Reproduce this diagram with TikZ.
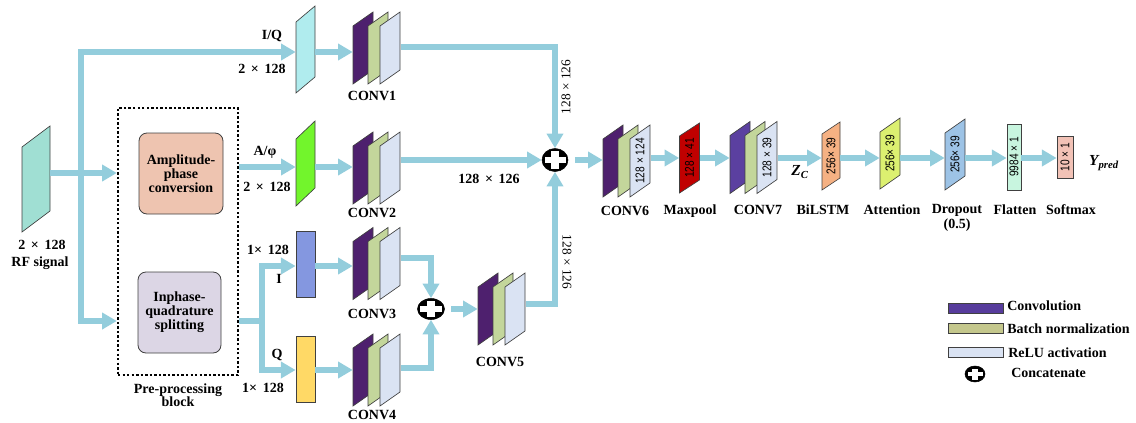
\documentclass[tikz,border=0pt]{standalone}
\usepackage{fontspec}
\setmainfont{Liberation Serif}
\newfontfamily\dimfont{Liberation Sans}
\usetikzlibrary{arrows.meta,shapes.geometric,calc}
\definecolor{arrowc}{HTML}{93CDDC}
\definecolor{edgec}{HTML}{404040}
\definecolor{rfc}{HTML}{A0DFD3}
\definecolor{iqc}{HTML}{B0ECEE}
\definecolor{apc}{HTML}{72F52C}
\definecolor{ic}{HTML}{8497E0}
\definecolor{qc}{HTML}{FFD966}
\definecolor{ampc}{HTML}{EEC4B0}
\definecolor{iqsc}{HTML}{DCD6E5}
\definecolor{cpurple}{HTML}{4E206E}
\definecolor{cgreen}{HTML}{C3D69B}
\definecolor{cblue}{HTML}{DAE3F3}
\definecolor{cpurpleb}{HTML}{5B40A0}
\definecolor{redc}{HTML}{C00000}
\definecolor{orc}{HTML}{F5B183}
\definecolor{attc}{HTML}{DCF070}
\definecolor{drc}{HTML}{9DC3E6}
\definecolor{flc}{HTML}{C8F5DF}
\definecolor{smc}{HTML}{F2C2B6}
\definecolor{legconv}{HTML}{573C9C}
\definecolor{legbn}{HTML}{C4C78C}
\definecolor{legrelu}{HTML}{DAE3F3}
% plane: cx, cy, w, h, s, fill
\newcommand\plane[6]{\filldraw[fill=#6,draw=edgec,line width=0.5pt]
  ({(#1)-(#3)/2},{(#2)-((#4)+(#5))/2+(#5)}) -- ({(#1)+(#3)/2},{(#2)-((#4)+(#5))/2})
  -- ({(#1)+(#3)/2},{(#2)+((#4)+(#5))/2-(#5)}) -- ({(#1)-(#3)/2},{(#2)+((#4)+(#5))/2}) -- cycle;}
% para: name, cx, cy, w, h, s, fill
\newcommand\para[7]{\node[inner sep=0pt,minimum width={(#4)*0.75pt},minimum height={((#5)+(#6))*0.75pt}] (#1) at (#2,#3) {};
  \plane{#2}{#3}{#4}{#5}{#6}{#7}}
% conv block: name, xleft, cy, first colour
\newcommand\convblk[4]{\node[inner sep=0pt,minimum width=36pt,minimum height=54pt] (#1) at ({(#2)+24},#3) {};
  \plane{(#2)+10}{#3}{20}{58}{14}{#4}\plane{(#2)+25}{#3}{20}{58}{14}{cgreen}\plane{(#2)+37}{#3}{20}{58}{14}{cblue}}
% concat: name, x, y, rx, ry
\newcommand\concat[5]{\node[ellipse,fill=black,draw=black,inner sep=0pt,minimum width={2*(#4)*0.75pt},minimum height={2*(#5)*0.75pt}] (#1) at (#2,#3) {};
  \fill[white] ({(#2)-(#4)+2.5},{(#3)-0.3*(#5)}) rectangle ({(#2)+(#4)-2.5},{(#3)+0.3*(#5)});
  \fill[white] ({(#2)-0.3*(#4)},{(#3)-(#5)+2.5}) rectangle ({(#2)+0.3*(#4)},{(#3)+(#5)-2.5});}
\newcommand\tx{\hspace{0.4em}×\hspace{0.4em}}
\newcommand\dt[1]{\scalebox{0.8}[1]{#1}}
\begin{document}
\begin{tikzpicture}[x=0.75pt,y=-0.75pt,
  arr/.style={draw=arrowc,line width=4.5pt,line join=miter,-{Triangle[length=11pt,width=12pt]}},
  lab/.style={font=\bfseries\fontsize{10.5}{11}\selectfont,inner sep=0pt},
  dim/.style={font=\dimfont\fontsize{9.5}{10}\selectfont,rotate=90,inner sep=0pt},
  sdim/.style={font=\fontsize{10}{11}\selectfont,inner sep=0pt},
  rbox/.style={draw=edgec,line width=0.6pt,inner sep=0pt}]
\useasboundingbox (0,0) rectangle (1136,422);

% RF signal
\para{rf}{36}{179}{28}{85}{21}{rfc}
\node[lab] (rfdim) at (42,245) {2\tx128};
\node[lab] (rflab) at (40,263) {RF signal};

% pre-processing block
\node[draw=black,line width=1.8pt,dash pattern=on 1.8pt off 1.6pt,minimum width=90pt,minimum height=200.25pt,inner sep=0pt] (pp) at (178,241.5) {};
\node[rbox,fill=ampc,rounded corners=6pt,minimum width=63pt,minimum height=60.75pt,align=center,font=\bfseries\fontsize{10.5}{10.5}\selectfont] (amp) at (181,173.5) {Amplitude-\\phase\\conversion};
\node[rbox,fill=iqsc,rounded corners=6pt,minimum width=62.25pt,minimum height=60.75pt,align=center,font=\bfseries\fontsize{10.5}{10.5}\selectfont] (iqs) at (179.5,312.5) {Inphase-\\quadrature\\splitting};
\node[lab,align=center,font=\bfseries\fontsize{10.5}{10}\selectfont] (pplab) at (178,395.5) {Pre-processing\\block};

% input planes
\para{iq}{305.5}{49.5}{19}{71}{16}{iqc}
\para{ap}{305.5}{163.5}{19}{67}{18}{apc}
\node[rbox,fill=ic,minimum width=14.25pt,minimum height=49.5pt] (ib) at (305.5,264) {};
\node[rbox,fill=qc,minimum width=14.25pt,minimum height=49.5pt] (qb) at (305.5,369) {};

\node[lab] (iqlab) at (272,36) {I/Q};
\node[lab] (iqdim) at (262,69) {2\tx128};
\node[lab] (aplab) at (265,152) {A/φ};
\node[lab] (apdim) at (267,187) {2\tx128};
\node[lab] (idim) at (268,250) {1×\hspace{0.4em}128};
\node[lab] (ilab) at (279,279) {I};
\node[lab] (qlab) at (277,355) {Q};
\node[lab] (qdim) at (263,388) {1×\hspace{0.4em}128};

% conv blocks
\convblk{c1}{353}{48}{cpurple}
\convblk{c2}{353}{168}{cpurple}
\convblk{c3}{353}{263.5}{cpurple}
\convblk{c4}{353}{370}{cpurple}
\convblk{c5}{478}{309}{cpurple}
\convblk{c6}{603}{161}{cpurple}
\convblk{c7}{730}{157.5}{cpurpleb}

\node[lab] (c1l) at (372,96) {CONV1};
\node[lab] (c2l) at (372,213) {CONV2};
\node[lab] (c3l) at (372,314) {CONV3};
\node[lab] (c4l) at (372,415) {CONV4};
\node[lab] (c5l) at (500,362) {CONV5};
\node[lab] (c6l) at (625,211) {CONV6};

% concatenations
\concat{k1}{555}{160}{13}{11.5}
\concat{k2}{431}{309}{13.5}{10.5}

% trunk and branches
\coordinate (J) at (81,173);
\coordinate (yIQ) at (0,52);
\coordinate (yB) at (0,321);
\coordinate (yAP) at (0,167);
\coordinate (S) at (262,321);
\coordinate (yI) at (0,266);
\coordinate (yQ) at (0,370);
\draw[arr] (rf.east |- J) -- (pp.west |- J);
\draw[arr] (J) |- (iq.west |- yIQ);
\draw[arr] (J) |- (pp.west |- yB);
\draw[arr] (pp.east |- yAP) -- (ap.west |- yAP);
\draw[arr] (pp.east |- S) -- (S) |- (ib.west |- yI);
\draw[arr] (S) |- (qb.west |- yQ);

\draw[arr] (iq.east |- yIQ) -- (c1.west |- yIQ);
\draw[arr] (ap.east |- yAP) -- (c2.west |- yAP);
\draw[arr] (ib.east |- yI) -- (c3.west |- yI);
\draw[arr] (qb.east |- yQ) -- (c4.west |- yQ);

\coordinate (o1) at (0,47);
\coordinate (o3) at (0,258);
\coordinate (o4) at (0,368);
\coordinate (o5) at (0,304);
\draw[arr] (c1.east |- o1) -| (k1.north);
\draw[arr] (c2.east |- k1) -- (k1.west);
\draw[arr] (c5.east |- o5) -| (k1.south);
\draw[arr] (c3.east |- o3) -| (k2.north);
\draw[arr] (c4.east |- o4) -| (k2.south);
\draw[arr] ([xshift=5pt]k2.east) -- (c5.west |- k2);
\draw[arr] ([xshift=5pt]k1.east) -- (c6.west |- k1);

\node[sdim,rotate=90] (d1) at (566,87) {128 × 126};
\node[sdim,rotate=-90] (d3) at (567,262) {128 × 126};
\node[lab] (d2) at (489,179) {128\tx126};

% right chain
\coordinate (yR) at (0,158);
\node[dim] (c6t) at (640,161) {\dt{128 × 124}};
\para{mp}{689.5}{158}{20}{57}{13}{redc}
\node[dim] (mpt) at (689.5,158) {\dt{128 × 41}};
\node[dim] (c7t) at (767,157.5) {\dt{128 × 39}};
\para{bl}{831}{156}{18}{56}{12}{orc}
\node[dim] (blt) at (831,156) {\dt{256× 39}};
\para{att}{890}{153.5}{20}{57}{14}{attc}
\node[dim] (attt) at (890,153.5) {\dt{256× 39}};
\para{dr}{955}{154.5}{20}{57}{14}{drc}
\node[dim] (drt) at (955,154.5) {\dt{256× 39}};
\node[rbox,fill=flc,minimum width=10.5pt,minimum height=49.5pt] (fl) at (1014,157) {};
\node[dim] (flt) at (1014,157) {\dt{9984 × 1}};
\node[rbox,fill=smc,minimum width=12pt,minimum height=31.5pt] (sm) at (1065,157) {};
\node[dim] (smt) at (1065,157) {\dt{10 × 1}};

\draw[arr] (c6.east |- yR) -- (mp.west |- yR);
\draw[arr] (mp.east |- yR) -- (c7.west |- yR);
\draw[arr] (c7.east |- yR) -- (bl.west |- yR);
\draw[arr] (bl.east |- yR) -- (att.west |- yR);
\draw[arr] (att.east |- yR) -- (dr.west |- yR);
\draw[arr] (dr.east |- yR) -- (fl.west |- yR);
\draw[arr] (fl.east |- yR) -- (sm.west |- yR);

\node[lab] (mpl) at (690,211) {Maxpool};
\node[lab] (c7l) at (758,210) {CONV7};
\node[lab] (bll) at (823,210) {BiLSTM};
\node[lab] (attl) at (892,210) {Attention};
\node[lab] (drl) at (957,210) {Dropout};
\node[lab] (drl2) at (957,225) {(0.5)};
\node[lab] (fll) at (1015,210) {Flatten};
\node[lab] (sml) at (1071,210) {Softmax};
\node[lab,font=\bfseries\fontsize{11.5}{12}\selectfont] (zc) at (800,172) {\textit{Z\textsubscript{C}}};
\node[lab,font=\bfseries\fontsize{11.5}{12}\selectfont] (yp) at (1104,163) {\textit{Y\textsubscript{pred}}};

% legend
\node[rbox,fill=legconv,minimum width=41.25pt,minimum height=7.5pt] (lg1) at (975.5,308) {};
\node[rbox,fill=legbn,minimum width=41.25pt,minimum height=7.5pt] (lg2) at (975.5,328) {};
\node[rbox,fill=legrelu,minimum width=41.25pt,minimum height=7.5pt] (lg3) at (975.5,352) {};
\concat{lg4}{975}{374}{10}{8}
\node[lab,anchor=west] (lg1t) at (1007,306) {Convolution};
\node[lab,anchor=west] (lg2t) at (1007,329) {Batch normalization};
\node[lab,anchor=west] (lg3t) at (1008,353) {ReLU activation};
\node[lab,anchor=west] (lg4t) at (1011,373) {Concatenate};
\end{tikzpicture}
\end{document}
